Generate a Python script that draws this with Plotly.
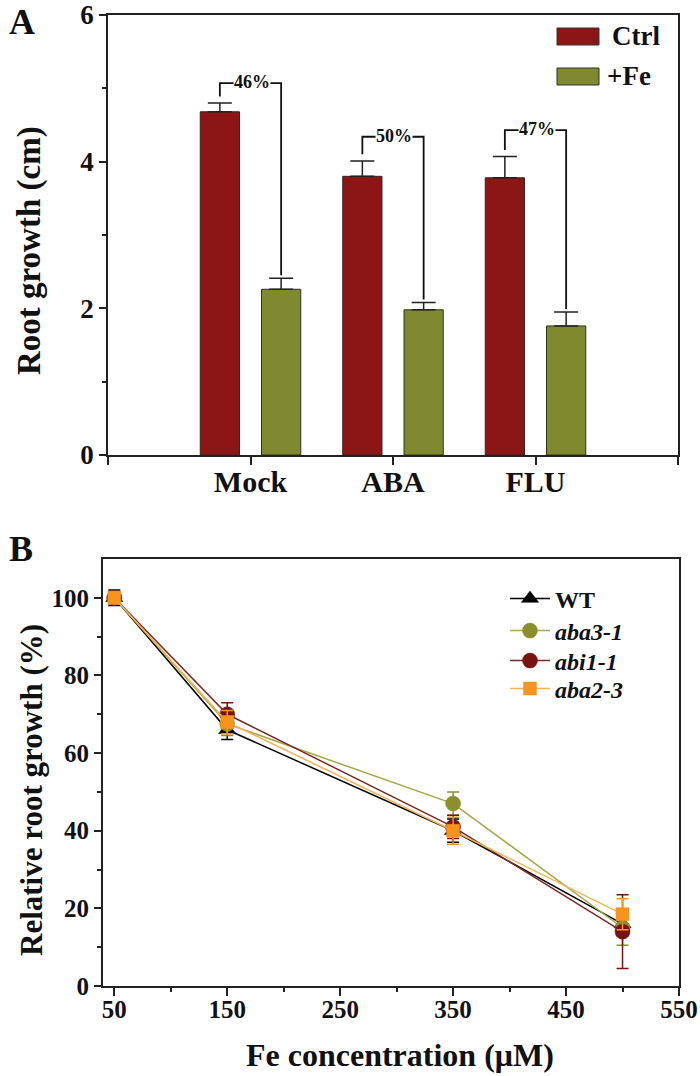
import plotly.graph_objects as go

W, H = 700, 1076
FONT = "Liberation Serif"

# ---------- Panel A data ----------
categories = ["Mock", "ABA", "FLU"]
ctrl_vals = [4.68, 3.80, 3.78]
ctrl_err = [0.12, 0.21, 0.29]
fe_vals = [2.26, 1.98, 1.76]
fe_err = [0.15, 0.10, 0.19]
pct_labels = ["46%", "50%", "47%"]
bracket_top = [5.07, 4.34, 4.43]

# ---------- Panel B data ----------
fe_conc = [50, 150, 350, 500]
wt = [100, 66, 40, 16]
wt_err = [2, 2.5, 3, 3]
aba3 = [100, 67.5, 47, 15]
aba3_err = [1.5, 3, 3, 4.5]
abi1 = [100, 70, 41, 14]
abi1_err = [1.5, 3, 3, 9.5]
aba2 = [100, 68, 40, 18.5]
aba2_err = [1.5, 3, 3.5, 4]

def px_x(x):
    return x / W

def px_y(y):
    return 1 - y / H

xpos = list(range(len(categories)))

fig = go.Figure()
fig.add_trace(go.Bar(
    x=xpos, y=ctrl_vals, name="Ctrl", marker=dict(color="#8c1616", line=dict(color="#3a2020", width=1)),
    error_y=dict(type="data", array=ctrl_err, arrayminus=[0]*3, symmetric=False, color="#222", thickness=1.5, width=12),
    xaxis="x", yaxis="y", showlegend=False))
fig.add_trace(go.Bar(
    x=xpos, y=fe_vals, name="+Fe", marker=dict(color="#7f8a30", line=dict(color="#303020", width=1)),
    error_y=dict(type="data", array=fe_err, arrayminus=[0]*3, symmetric=False, color="#222", thickness=1.5, width=12),
    xaxis="x", yaxis="y", showlegend=False))

series = [
    ("WT", wt, wt_err, "#000000", "#000000", "triangle-up", "<b>WT</b>", "legend", 599),
    ("aba3-1", aba3, aba3_err, "#8a8f2e", "#a3a84a", "circle", "<b><i>aba3-1</i></b>", "legend2", 631),
    ("abi1-1", abi1, abi1_err, "#7a1212", "#7a2a2a", "circle", "<b><i>abi1-1</i></b>", "legend3", 661),
    ("aba2-3", aba2, aba2_err, "#f7941d", "#f2b35a", "square", "<b><i>aba2-3</i></b>", "legend4", 689),
]
legends = {}
for name, vals, errs, mc, lc, sym, label, lg, ly in series:
    fig.add_trace(go.Scatter(
        x=fe_conc, y=vals, name=label, mode="lines+markers",
        line=dict(color=lc, width=1.5),
        marker=dict(symbol=sym, size=15 if sym != "square" else 13, color=mc,
                    line=dict(color=mc, width=0.5)),
        error_y=dict(type="data", array=errs, color=mc, thickness=1.5, width=6),
        xaxis="x2", yaxis="y2", legend=lg, showlegend=True))
    legends[lg] = dict(x=px_x(505), y=px_y(ly), xanchor="left", yanchor="middle",
                       bgcolor="rgba(0,0,0,0)", font=dict(family=FONT, size=24, color="#111"),
                       itemwidth=40)

# brackets
off = 0.215
shapes = []
annotations = []
for i, lab in enumerate(pct_labels):
    x1 = xpos[i] - off
    x2 = xpos[i] + off
    yb1 = ctrl_vals[i] + ctrl_err[i] + 0.09
    yb2 = fe_vals[i] + fe_err[i] + 0.04
    yt = bracket_top[i]
    shapes.append(dict(type="path", xref="x", yref="y",
                       path=f"M {x1},{yb1} L {x1},{yt} L {x2},{yt} L {x2},{yb2}",
                       line=dict(color="#111", width=1.8)))
    annotations.append(dict(x=xpos[i] + 0.01, y=yt, xref="x", yref="y", text=f"<b>{lab}</b>",
                            showarrow=False, font=dict(family=FONT, size=18, color="#111"),
                            bgcolor="white", borderpad=0, yshift=1))

# custom legend for panel A
for (y0, y1, col, txt, tx) in [(28, 45, "#8c1616", "Ctrl", 610), (68, 85, "#7f8a30", "+Fe", 605)]:
    shapes.append(dict(type="rect", xref="paper", yref="paper",
                       x0=px_x(557), x1=px_x(599), y0=px_y(y1), y1=px_y(y0),
                       fillcolor=col, line=dict(color="#333", width=1)))
    annotations.append(dict(x=px_x(tx), y=px_y((y0 + y1) / 2), xref="paper", yref="paper",
                            text=f"<b>{txt}</b>", showarrow=False, xanchor="left", yanchor="middle",
                            font=dict(family=FONT, size=27, color="#111")))

# panel labels
annotations.append(dict(x=px_x(7), y=px_y(0), xref="paper", yref="paper", text="<b>A</b>",
                        showarrow=False, xanchor="left", yanchor="top",
                        font=dict(family=FONT, size=36, color="#111")))
annotations.append(dict(x=px_x(7), y=px_y(549), xref="paper", yref="paper", text="<b>B</b>",
                        showarrow=False, xanchor="left", yanchor="middle",
                        font=dict(family=FONT, size=36, color="#111")))

# axis titles
annotations.append(dict(x=px_x(29), y=px_y(251), xref="paper", yref="paper", text="<b>Root growth (cm)</b>",
                        showarrow=False, textangle=-90, xanchor="center", yanchor="middle",
                        font=dict(family=FONT, size=33, color="#111")))
annotations.append(dict(x=px_x(31), y=px_y(790), xref="paper", yref="paper", text="<b>Relative root growth (%)</b>",
                        showarrow=False, textangle=-90, xanchor="center", yanchor="middle",
                        font=dict(family=FONT, size=31, color="#111")))
annotations.append(dict(x=px_x(400), y=px_y(1055), xref="paper", yref="paper", text="<b>Fe concentration (μM)</b>",
                        showarrow=False, xanchor="center", yanchor="middle",
                        font=dict(family=FONT, size=32, color="#111")))

axis_common = dict(showline=True, linecolor="#222", linewidth=1.8, mirror=True, automargin=False,
                   ticklabeloverflow="allow",
                   ticks="outside", tickcolor="#222", tickwidth=1.5, showgrid=False, zeroline=False)

fig.update_layout(
    template="none",
    width=W, height=H, margin=dict(l=0, r=0, t=0, b=0, autoexpand=False),
    paper_bgcolor="white", plot_bgcolor="white",
    font=dict(family=FONT, color="#111"),
    barmode="group", bargap=0.14, bargroupgap=0.36,
    xaxis=dict(domain=[px_x(108), px_x(678)], anchor="y", range=[-1, 3],
               tickmode="array", tickvals=[-1, 0, 1, 2, 3], ticktext=["", "<b>Mock</b>", "<b>ABA</b>", "<b>FLU</b>", ""],
               ticklen=8, ticklabelstandoff=-9, tickfont=dict(family=FONT, size=30), **axis_common),
    yaxis=dict(domain=[px_y(455), px_y(15)], anchor="x", range=[0, 6],
               tickmode="array", tickvals=[0, 2, 4, 6], ticktext=["<b>0</b>", "<b>2</b>", "<b>4</b>", "<b>6</b>"],
               ticklen=7, tickfont=dict(family=FONT, size=27),
               minor=dict(tickvals=[1, 3, 5], ticks="outside", ticklen=4, tickcolor="#222", tickwidth=1.5),
               **axis_common),
    xaxis2=dict(domain=[px_x(103), px_x(679)], anchor="y2", range=[40, 550],
                tickmode="array", tickvals=[50, 150, 250, 350, 450, 550],
                ticktext=["<b>50</b>", "<b>150</b>", "<b>250</b>", "<b>350</b>", "<b>450</b>", "<b>550</b>"],
                ticklen=8, ticklabelstandoff=-8, tickfont=dict(family=FONT, size=25),
                minor=dict(tickvals=[100, 200, 300, 400, 500], ticks="outside", ticklen=4, tickcolor="#222", tickwidth=1.5),
                **axis_common),
    yaxis2=dict(domain=[px_y(986), px_y(559)], anchor="x2", range=[0, 110],
                tickmode="array", tickvals=[0, 20, 40, 60, 80, 100],
                ticktext=["<b>0</b>", "<b>20</b>", "<b>40</b>", "<b>60</b>", "<b>80</b>", "<b>100</b>"],
                ticklen=7, tickfont=dict(family=FONT, size=25),
                minor=dict(tickvals=[10, 30, 50, 70, 90], ticks="outside", ticklen=4, tickcolor="#222", tickwidth=1.5),
                **axis_common),
    shapes=shapes, annotations=annotations,
    **legends,
)

fig.write_html("out.html", config={"displayModeBar": False},
               post_script="document.body.style.margin='0px';document.body.style.overflow='hidden';")
